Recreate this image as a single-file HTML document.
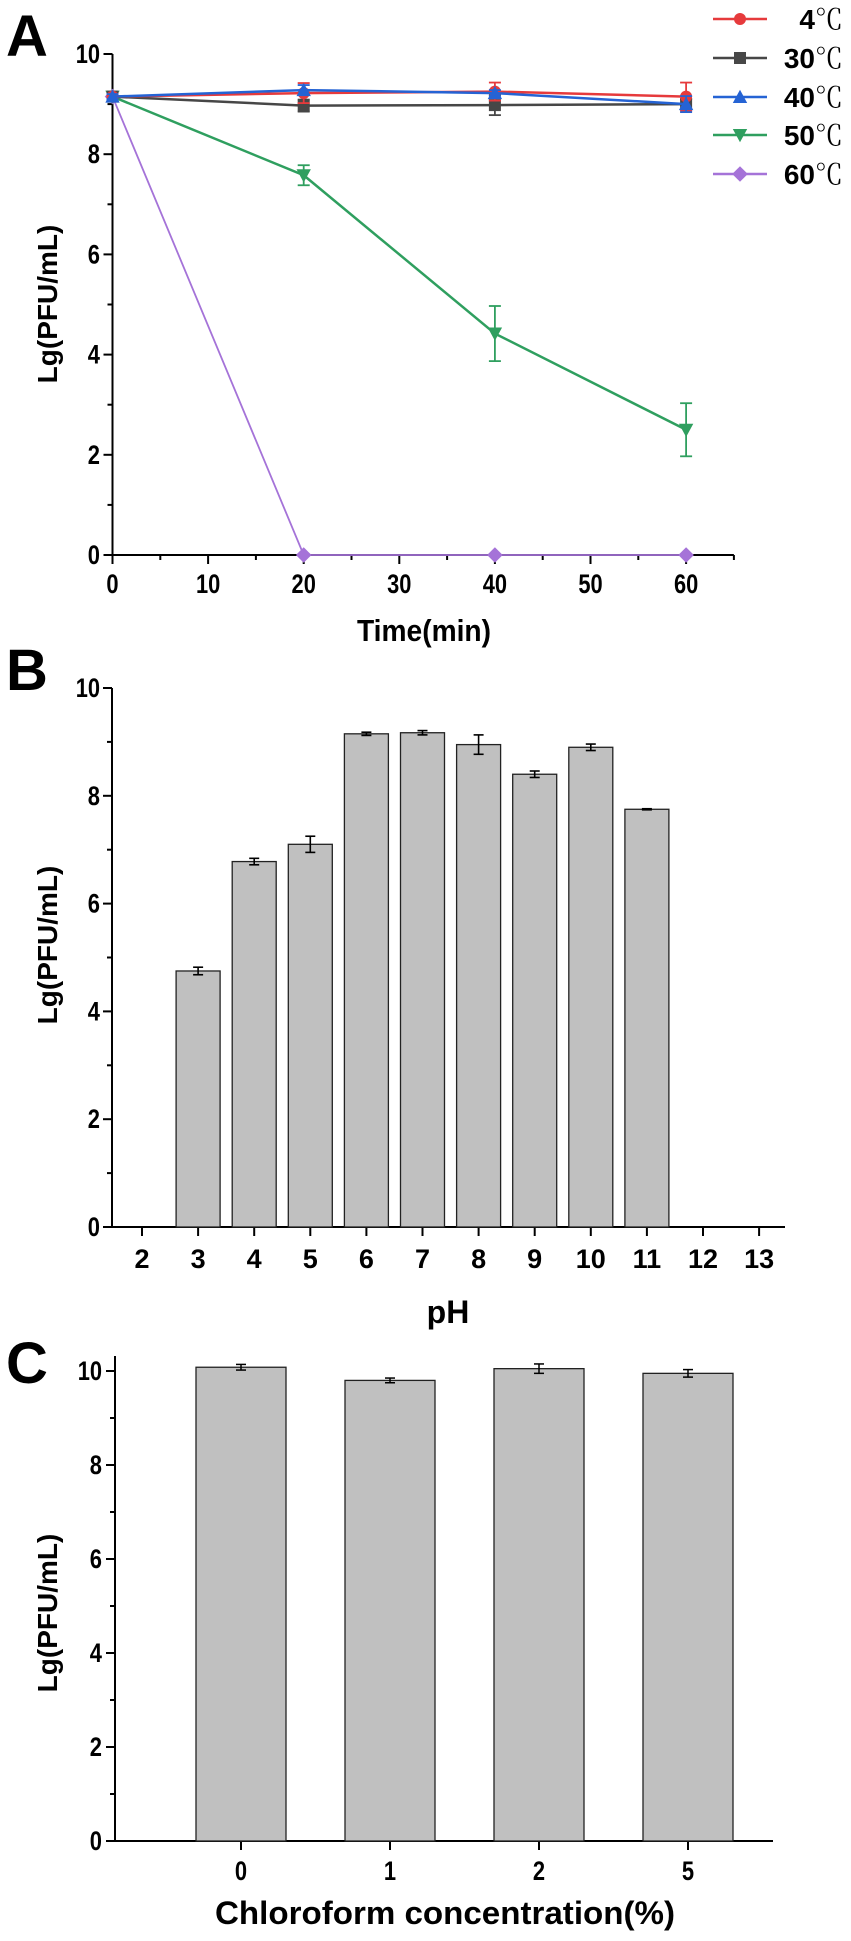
<!DOCTYPE html>
<html><head><meta charset="utf-8"><style>
html,body{margin:0;padding:0;background:#fff}
svg{display:block}
text{font-family:"Liberation Sans Narrow","Liberation Sans",sans-serif;font-weight:bold;fill:#000}
.w{font-family:"Liberation Sans",sans-serif}
</style></head><body>
<svg id="fig" width="851" height="1941" viewBox="0 0 851 1941" xmlns="http://www.w3.org/2000/svg">
<text x="6" y="56" class="w" font-size="58">A</text>
<text x="6" y="690" class="w" font-size="58">B</text>
<text x="6" y="1383" class="w" font-size="58">C</text>
<g id="pa"></g>
<g id="pb"></g>
<g id="pc"></g>
</svg>
<script>
const NS="http://www.w3.org/2000/svg";
// Panel A data
const timeCats=[0,20,40,60];
const seriesNames=["4℃","30℃","40℃","50℃","60℃"];
const s4=[9.15,9.22,9.25,9.15];
const s4err=[0.05,0.2,0.18,0.28];
const s30=[9.15,8.97,8.98,9.0];
const s30err=[0.05,0.12,0.2,0.1];
const s40=[9.15,9.28,9.22,9.0];
const s40err=[0.05,0.1,0.06,0.16];
const s50=[9.15,7.58,4.42,2.5];
const s50err=[0.05,0.2,0.55,0.53];
const s60=[9.15,0,0,0];
const s60err=[0,0,0,0];
const aXTicks=[0,10,20,30,40,50,60];
const aYTicks=[0,2,4,6,8,10];
// Panel B data
const phCats=[2,3,4,5,6,7,8,9,10,11,12,13];
const phVals=[0,4.75,6.78,7.1,9.15,9.17,8.95,8.4,8.9,7.75,0,0];
const phErr=[0,0.07,0.06,0.15,0.03,0.04,0.18,0.06,0.06,0.01,0,0];
const bYTicks=[0,2,4,6,8,10];
// Panel C data
const chlCats=["0","1","2","5"];
const chlVals=[10.08,9.8,10.05,9.95];
const chlErr=[0.06,0.05,0.1,0.08];
const cYTicks=[0,2,4,6,8,10];

function el(p,tag,at,txt){const e=document.createElementNS(NS,tag);for(const k in at)e.setAttribute(k,at[k]);if(txt!==undefined)e.textContent=txt;p.appendChild(e);return e;}
function narrow(e,s,fs){e.setAttribute('textLength',(s.length*fs*0.45).toFixed(1));e.setAttribute('lengthAdjust','spacingAndGlyphs');}

// ---------- Panel A ----------
const pa=document.getElementById('pa');
const ax=v=>112.5+v*9.56, ay=v=>555-v*50.1;
el(pa,'line',{x1:112.5,y1:ay(10),x2:112.5,y2:555,stroke:'#000','stroke-width':2});
el(pa,'line',{x1:112.5,y1:555,x2:ax(65),y2:555,stroke:'#000','stroke-width':2});
for(let v=0;v<=10;v++){el(pa,'line',{x1:112.5-(v%2?5:9),y1:ay(v),x2:112.5,y2:ay(v),stroke:'#000','stroke-width':2});}
aYTicks.forEach(v=>{const t=el(pa,'text',{x:100,y:ay(v)+9,'font-size':27,'text-anchor':'end'},String(v));narrow(t,String(v),27);

});
for(let v=0;v<=65;v+=5){el(pa,'line',{x1:ax(v),y1:555,x2:ax(v),y2:555+(v%10?5:9),stroke:'#000','stroke-width':2});}
aXTicks.forEach(v=>{const t=el(pa,'text',{x:ax(v),y:593,'font-size':27,'text-anchor':'middle'},String(v));narrow(t,String(v),27);

});
let t=el(pa,'text',{x:424,y:641,'font-size':31,'text-anchor':'middle',textLength:134,lengthAdjust:'spacingAndGlyphs'},'Time(min)');

t=el(pa,'text',{x:0,y:0,'font-size':28,'text-anchor':'middle',class:'w',transform:'translate(57,304) rotate(-90)'},'Lg(PFU/mL)');


const colors=['#e63a3c','#474747','#2563d4','#2f9f5f','#a573d8'];
const shapes=['circle','square','up','down','diamond'];
const allS=[s4,s30,s40,s50,s60], allE=[s4err,s30err,s40err,s50err,s60err];
function marker(p,shape,x,y,c,r){
 if(shape==='circle')return el(p,'circle',{cx:x,cy:y,r:r,fill:c});
 if(shape==='square')return el(p,'rect',{x:x-r,y:y-r,width:2*r,height:2*r,fill:c});
 if(shape==='up')return el(p,'polygon',{points:`${x},${y-r*1.2} ${x-r*1.2},${y+r} ${x+r*1.2},${y+r}`,fill:c});
 if(shape==='down')return el(p,'polygon',{points:`${x},${y+r*1.2} ${x-r*1.2},${y-r} ${x+r*1.2},${y-r}`,fill:c});
 return el(p,'polygon',{points:`${x},${y-r*1.3} ${x+r*1.3},${y} ${x},${y+r*1.3} ${x-r*1.3},${y}`,fill:c});
}
[4,3,1,0,2].forEach(i=>{
 const g=el(pa,'g',{});
 
 
 const d=allS[i];
 el(g,'polyline',{points:timeCats.map((x,j)=>ax(x)+','+ay(d[j])).join(' '),fill:'none',stroke:colors[i],'stroke-width':i===4?1.8:2.5});
 timeCats.forEach((x,j)=>{const e=allE[i][j];if(e>0){const X=ax(x);
  el(g,'line',{x1:X,y1:ay(d[j]-e),x2:X,y2:ay(d[j]+e),stroke:colors[i],'stroke-width':1.8});
  el(g,'line',{x1:X-6,y1:ay(d[j]+e),x2:X+6,y2:ay(d[j]+e),stroke:colors[i],'stroke-width':1.8});
  el(g,'line',{x1:X-6,y1:ay(d[j]-e),x2:X+6,y2:ay(d[j]-e),stroke:colors[i],'stroke-width':1.8});}
  const m=marker(g,shapes[i],ax(x),ay(d[j]),colors[i],6);
  
  
 });
});
// legend
const legY=[19,58,97,135,174];
seriesNames.forEach((n,i)=>{
 const g=el(pa,'g',{});
 
 
 el(g,'line',{x1:713,y1:legY[i],x2:767,y2:legY[i],stroke:colors[i],'stroke-width':2.5});
 marker(g,shapes[i],740,legY[i],colors[i],6);
 const tx=el(g,'text',{x:843,y:legY[i]+10,'font-size':28,'text-anchor':'end',class:'w'});
 el(tx,'tspan',{},n.replace('℃',''));
 el(tx,'tspan',{style:'font-family:"Liberation Serif","Noto Serif CJK SC",serif;font-weight:normal','font-size':28},'℃');
});

// ---------- Panel B ----------
const pb=document.getElementById('pb');
const bx=v=>142+(v-2)*56.1, by=v=>1227-v*53.9;
el(pb,'line',{x1:112,y1:by(10),x2:112,y2:1227,stroke:'#000','stroke-width':2});
el(pb,'line',{x1:104,y1:1227,x2:785,y2:1227,stroke:'#000','stroke-width':2});
for(let v=0;v<=10;v++)el(pb,'line',{x1:112-(v%2?5:9),y1:by(v),x2:112,y2:by(v),stroke:'#000','stroke-width':2});
bYTicks.forEach(v=>{const t=el(pb,'text',{x:100,y:by(v)+9,'font-size':27,'text-anchor':'end'},String(v));narrow(t,String(v),27);
});
phCats.forEach((c,i)=>{
 const X=bx(c);
 el(pb,'line',{x1:X,y1:1227,x2:X,y2:1236,stroke:'#000','stroke-width':2});
 const tl=el(pb,'text',{x:X,y:1268,'font-size':27,'text-anchor':'middle',class:'w'},String(c));
 
 if(phVals[i]>0){
  const r=el(pb,'rect',{x:X-22,y:by(phVals[i]),width:44,height:1227-by(phVals[i]),fill:'#c0c0c0',stroke:'#222','stroke-width':1.3});
  
  const e=phErr[i],v=phVals[i];
  el(pb,'line',{x1:X,y1:by(v+e),x2:X,y2:by(v-e),stroke:'#000','stroke-width':1.6});
  el(pb,'line',{x1:X-5,y1:by(v+e),x2:X+5,y2:by(v+e),stroke:'#000','stroke-width':1.6});
  el(pb,'line',{x1:X-5,y1:by(v-e),x2:X+5,y2:by(v-e),stroke:'#000','stroke-width':1.6});
 }
});
t=el(pb,'text',{x:448,y:1323,'font-size':32,'text-anchor':'middle',class:'w'},'pH');

t=el(pb,'text',{x:0,y:0,'font-size':28,'text-anchor':'middle',class:'w',transform:'translate(57,945) rotate(-90)'},'Lg(PFU/mL)');


// ---------- Panel C ----------
const pc=document.getElementById('pc');
const cx=i=>241+i*149, cy=v=>1841-v*47;
el(pc,'line',{x1:115,y1:1356,x2:115,y2:1841,stroke:'#000','stroke-width':2});
el(pc,'line',{x1:108,y1:1841,x2:773,y2:1841,stroke:'#000','stroke-width':2});
for(let v=0;v<=10;v++)el(pc,'line',{x1:115-(v%2?5:9),y1:cy(v),x2:115,y2:cy(v),stroke:'#000','stroke-width':2});
cYTicks.forEach(v=>{const t=el(pc,'text',{x:102,y:cy(v)+9,'font-size':27,'text-anchor':'end'},String(v));narrow(t,String(v),27);
});
chlCats.forEach((c,i)=>{
 const X=cx(i),v=chlVals[i],e=chlErr[i];
 el(pc,'line',{x1:X,y1:1841,x2:X,y2:1850,stroke:'#000','stroke-width':2});
 const tl=el(pc,'text',{x:X,y:1880,'font-size':27,'text-anchor':'middle'},c);narrow(tl,c,27);
 
 const r=el(pc,'rect',{x:X-45,y:cy(v),width:90,height:1841-cy(v),fill:'#c0c0c0',stroke:'#222','stroke-width':1.3});
 
 el(pc,'line',{x1:X,y1:cy(v+e),x2:X,y2:cy(v-e),stroke:'#000','stroke-width':1.5});
 el(pc,'line',{x1:X-5,y1:cy(v+e),x2:X+5,y2:cy(v+e),stroke:'#000','stroke-width':1.5});
 el(pc,'line',{x1:X-5,y1:cy(v-e),x2:X+5,y2:cy(v-e),stroke:'#000','stroke-width':1.5});
});
t=el(pc,'text',{x:445,y:1924,'font-size':32,'text-anchor':'middle',textLength:460,lengthAdjust:'spacingAndGlyphs'},'Chloroform concentration(%)');

t=el(pc,'text',{x:0,y:0,'font-size':28,'text-anchor':'middle',class:'w',transform:'translate(57,1613) rotate(-90)'},'Lg(PFU/mL)');

</script>
</body></html>
